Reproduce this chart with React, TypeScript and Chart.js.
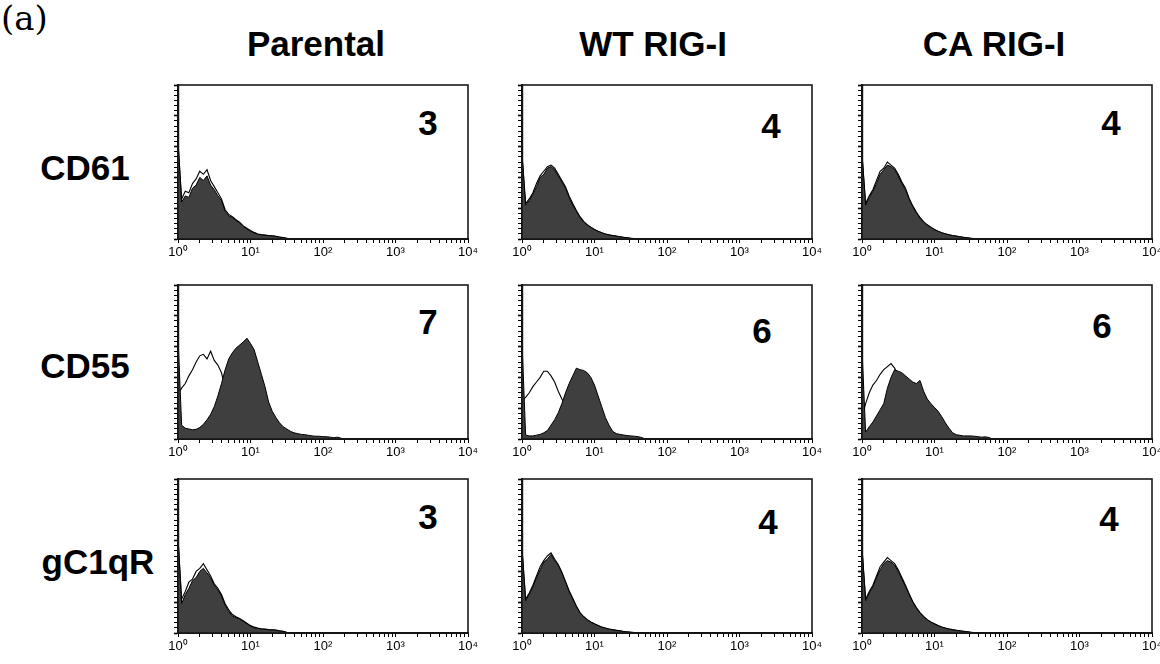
import React, { useEffect, useRef } from "react";
import { Chart, registerables } from "chart.js";

Chart.register(...registerables);

// ---------- data ----------
const STEP = 0.05; // bin width in decades (x axis spans 10^0 .. 10^4)
const columnTitles = ["Parental", "WT RIG-I", "CA RIG-I"];
const rowLabels = ["CD61", "CD55", "gC1qR"];
const decadeLabels = ["10⁰", "10¹", "10²", "10³", "10⁴"];
const panelPercents = [
  ["3", "4", "4"],
  ["7", "6", "6"],
  ["3", "4", "4"],
];

// CD61
const cd61ParentalStain = [63, 24, 28, 27, 33, 35, 40, 38, 41, 35, 32, 28, 25, 18, 15, 14, 12, 10.5, 8, 6.5, 5, 4, 3, 2.7, 2.4, 2.2, 2, 1.7, 1.2, 0.9, 0.4, 0];
const cd61ParentalControl = [63, 26, 31, 30, 36, 39, 44, 42, 45, 38, 34, 30, 26, 19, 16, 14.5, 12.5, 11, 8.5, 7, 5.5, 4.3, 3.3, 2.9, 2.6, 2.3, 2.1, 1.8, 1.3, 1, 0.5, 0];
const cd61WtStain = [55, 22, 25, 29, 34, 40, 42, 46, 47, 45, 41, 37, 33, 27, 22, 18, 14, 11, 9, 7.5, 6, 5, 4, 3.2, 2.6, 2.2, 1.8, 1.4, 1.1, 0.8, 0.5, 0.3, 0];
const cd61WtControl = [55, 23, 26, 30, 36, 41, 44, 47, 48, 46, 42, 38, 34, 28, 23, 18.5, 14.5, 11.5, 9.3, 7.7, 6.2, 5.1, 4.1, 3.3, 2.7, 2.3, 1.9, 1.5, 1.1, 0.8, 0.5, 0.3, 0];
const cd61CaStain = [55, 22, 27, 31, 36, 42, 45, 48, 47, 45, 41, 36, 32, 26, 21, 17, 13.5, 11, 9, 7.5, 6, 5, 4, 3.3, 2.7, 2.2, 1.8, 1.4, 1.1, 0.8, 0.5, 0.3, 0];
const cd61CaControl = [55, 23, 28, 32, 38, 44, 46, 50, 48, 46, 42, 37, 33, 26.5, 21.5, 17.5, 14, 11.3, 9.2, 7.7, 6.2, 5.1, 4.1, 3.4, 2.8, 2.3, 1.9, 1.5, 1.1, 0.8, 0.5, 0.3, 0];

// CD55
const cd55ParentalStain = [66, 9, 7, 6.5, 6, 6.3, 7.5, 9.5, 12.5, 16, 21, 28, 36, 45, 52, 56, 59, 61, 63, 65.5, 62, 58, 50, 42, 34, 24, 18, 14, 10.5, 8, 6.5, 5, 4, 3.5, 3, 2.8, 2.4, 2, 1.8, 1.8, 1.5, 1.5, 1.2, 0.8, 1.2, 0.5, 0];
const cd55ParentalControl = [29, 33, 36, 41, 45, 50, 54, 55, 52, 57, 51, 48, 43, 33, 22, 15, 10, 6, 4, 3, 2, 1.4, 0.8, 0.4, 0];
const cd55WtStain = [63, 2.5, 2, 2, 2.5, 3, 4, 5.5, 9, 12.5, 17, 23, 30, 36, 41, 46, 45, 44.5, 43, 40, 35, 28, 21, 14, 9, 5, 3.5, 3, 2.6, 2.2, 2, 1.8, 1.5, 1, 0];
const cd55WtControl = [25, 27, 30, 34, 37, 40, 44, 44, 41, 37, 31, 26, 22, 16, 11, 7, 5, 3, 2, 1.2, 0.6, 0];
const cd55CaStain = [58, 4.5, 8, 11, 15, 19, 23, 33, 40, 45, 44, 43, 41, 39, 37, 36, 38, 31, 26, 23, 20.5, 18, 14.5, 10.5, 7, 4, 2.8, 2.4, 2, 2, 2, 1.8, 1.5, 1.2, 1.4, 1, 0];
const cd55CaControl = [14, 23, 30, 35, 38, 42, 45, 47, 49, 46, 41, 36, 30, 22, 15, 10, 6, 4, 2, 1, 0];

// gC1qR
const gc1qrParentalStain = [62, 19, 25, 29, 34, 36, 40, 42, 39, 36, 31, 28, 24, 18, 14, 11, 10, 9, 7.5, 6, 4.5, 3.5, 3, 2.6, 2.4, 2.1, 2, 1.8, 1.3, 1, 0.3, 0];
const gc1qrParentalControl = [62, 22, 27, 33, 35, 40, 42, 45, 41, 37, 32, 29, 25, 19, 15, 12, 10.5, 9.5, 8, 6.3, 4.8, 3.8, 3.2, 2.8, 2.5, 2.2, 2.1, 1.9, 1.4, 1.1, 0.4, 0];
const gc1qrWtStain = [55, 21, 25, 30, 36, 41, 46, 48, 51, 47, 44, 39, 33, 27, 22, 17, 13, 10.5, 8.5, 7, 5.8, 4.8, 3.8, 3.1, 2.5, 2.1, 1.7, 1.4, 1, 0.7, 0.5, 0.3, 0];
const gc1qrWtControl = [55, 22, 26, 31, 37, 43, 47, 50, 52, 48, 44.5, 39.5, 33.5, 27.5, 22.5, 17.5, 13.3, 10.7, 8.7, 7.2, 6, 4.9, 3.9, 3.2, 2.6, 2.2, 1.8, 1.4, 1, 0.7, 0.5, 0.3, 0];
const gc1qrCaStain = [55, 21, 26, 30, 36, 41, 45, 47, 46, 44, 40, 35, 30, 25, 20, 16, 13, 10.5, 8.5, 7, 5.8, 4.7, 3.8, 3.1, 2.6, 2.1, 1.7, 1.4, 1.1, 0.8, 0.5, 0.3, 0];
const gc1qrCaControl = [55, 22, 27, 31, 37, 43, 46, 49, 47, 45, 41, 36, 31, 25.5, 20.5, 16.5, 13.3, 10.8, 8.7, 7.2, 6, 4.8, 3.9, 3.2, 2.6, 2.2, 1.8, 1.4, 1.1, 0.8, 0.5, 0.3, 0];

const stainTable = [
  [cd61ParentalStain, cd61WtStain, cd61CaStain],
  [cd55ParentalStain, cd55WtStain, cd55CaStain],
  [gc1qrParentalStain, gc1qrWtStain, gc1qrCaStain],
];
const controlTable = [
  [cd61ParentalControl, cd61WtControl, cd61CaControl],
  [cd55ParentalControl, cd55WtControl, cd55CaControl],
  [gc1qrParentalControl, gc1qrWtControl, gc1qrCaControl],
];

// ---------- layout ----------
const COL_LEFT = [178, 522, 862];
const ROW_TOP = [85, 285, 479];
const PANEL_W = 290;
const PANEL_H = 154;
const PAD_L = 12;
const Y_W = 6;
const PAD_R = 14;
const PAD_T = 2;
const X_H = 24;

const TITLE_POS = [[316, 43], [653, 43], [994, 43]];
const ROW_LABEL_POS = [[85, 167], [85, 365], [98, 561]];
const NUMBER_POS = [
  [[428, 122], [771, 125], [1111, 122]],
  [[428, 321], [762, 330], [1102, 325]],
  [[428, 516], [768, 521], [1109, 518]],
];

const SANS = 'Arial, "Liberation Sans", Helvetica, sans-serif';

const xTickValues: number[] = [];
for (let d = 0; d < 4; d++) {
  for (let k = 1; k <= 9; k++) xTickValues.push(d + Math.log10(k));
}
xTickValues.push(4);
const yTickValues: number[] = [];
for (let i = 0; i <= 30; i++) yTickValues.push((i * 100) / 30);

const framePlugin = {
  id: "frame",
  afterDatasetsDraw(chart: any) {
    const { ctx, chartArea: a } = chart;
    ctx.save();
    ctx.strokeStyle = "#1a1a1a";
    ctx.lineWidth = 1.6;
    ctx.strokeRect(a.left, a.top, a.right - a.left, a.bottom - a.top);
    ctx.restore();
  },
};

function toPoints(arr: number[]) {
  return arr.map((y, i) => ({ x: i * STEP, y }));
}

function Panel({ row, col }: { row: number; col: number }) {
  const ref = useRef<HTMLCanvasElement>(null);
  const w = PANEL_W + PAD_L + Y_W + PAD_R;
  const h = PANEL_H + PAD_T + X_H;
  useEffect(() => {
    if (!ref.current) return;
    const chart = new Chart(ref.current, {
      type: "line",
      data: {
        datasets: [
          {
            data: toPoints(stainTable[row][col]),
            borderColor: "#000",
            borderWidth: 1,
            backgroundColor: "#3f3f3f",
            fill: "origin",
            pointRadius: 0,
            tension: 0,
          },
          {
            data: toPoints(controlTable[row][col]),
            borderColor: "#000",
            borderWidth: 1.1,
            fill: false,
            pointRadius: 0,
            tension: 0,
          },
        ],
      },
      options: {
        animation: false,
        responsive: false,
        maintainAspectRatio: false,
        events: [],
        layout: { padding: { left: PAD_L, right: PAD_R, top: PAD_T, bottom: 0 } },
        plugins: { legend: { display: false }, tooltip: { enabled: false } },
        scales: {
          x: {
            type: "linear",
            min: 0,
            max: 4,
            afterBuildTicks: (s: any) => {
              s.ticks = xTickValues.map((v) => ({ value: v }));
            },
            afterFit: (s: any) => {
              s.height = X_H;
              s.paddingLeft = 0;
              s.paddingRight = 0;
            },
            grid: { display: true, drawOnChartArea: false, drawTicks: true, tickLength: 4, color: "#000", lineWidth: 1 },
            border: { display: true, color: "#000", width: 2 },
            ticks: {
              autoSkip: false,
              maxRotation: 0,
              padding: 2,
              color: "#000",
              font: { family: SANS, size: 13 },
              callback: (v: any) => {
                const d = Math.round(v);
                return Math.abs(v - d) < 1e-6 ? decadeLabels[d] : "";
              },
            },
          },
          y: {
            type: "linear",
            min: 0,
            max: 100,
            afterBuildTicks: (s: any) => {
              s.ticks = yTickValues.map((v) => ({ value: v }));
            },
            afterFit: (s: any) => {
              s.width = Y_W;
            },
            grid: {
              display: true,
              drawOnChartArea: false,
              drawTicks: true,
              tickLength: 4,
              color: "#000",
              tickWidth: (c: any) => (c.index % 6 === 0 ? 1.6 : 1),
            },
            border: { display: true, color: "#000", width: 2.2 },
            ticks: { display: false },
          },
        },
      },
      plugins: [framePlugin],
    } as any);
    return () => chart.destroy();
  }, [row, col]);
  return (
    <canvas
      ref={ref}
      width={w}
      height={h}
      style={{
        position: "absolute",
        left: COL_LEFT[col] - PAD_L - Y_W,
        top: ROW_TOP[row] - PAD_T,
        width: w,
        height: h,
      }}
    />
  );
}

function Label({ x, y, text, size, weight = "bold", family = SANS }: any) {
  return (
    <div
      style={{
        position: "absolute",
        left: x,
        top: y,
        transform: "translate(-50%, -50%)",
        fontFamily: family,
        fontWeight: weight,
        fontSize: size,
        lineHeight: 1,
        whiteSpace: "nowrap",
        color: "#000",
      }}
    >
      {text}
    </div>
  );
}

export default function App() {
  const panels = [];
  for (let r = 0; r < 3; r++) for (let c = 0; c < 3; c++) panels.push(<Panel key={`${r}-${c}`} row={r} col={c} />);
  return (
    <div style={{ position: "absolute", left: 0, top: 0, width: 1160, height: 664, background: "#fff", overflow: "hidden" }}>
      <div
        style={{
          position: "absolute",
          left: 1,
          top: 0,
          fontFamily: '"DejaVu Serif", "Liberation Serif", serif',
          fontSize: 34,
          lineHeight: 1.1,
        }}
      >
        (a)
      </div>
      {columnTitles.map((t, i) => (
        <Label key={t} x={TITLE_POS[i][0]} y={TITLE_POS[i][1]} text={t} size={35} />
      ))}
      {rowLabels.map((t, i) => (
        <Label key={t} x={ROW_LABEL_POS[i][0]} y={ROW_LABEL_POS[i][1]} text={t} size={35} />
      ))}
      {panelPercents.map((row, r) =>
        row.map((t, c) => <Label key={`n${r}${c}`} x={NUMBER_POS[r][c][0]} y={NUMBER_POS[r][c][1]} text={t} size={35} />)
      )}
      {panels}
    </div>
  );
}
